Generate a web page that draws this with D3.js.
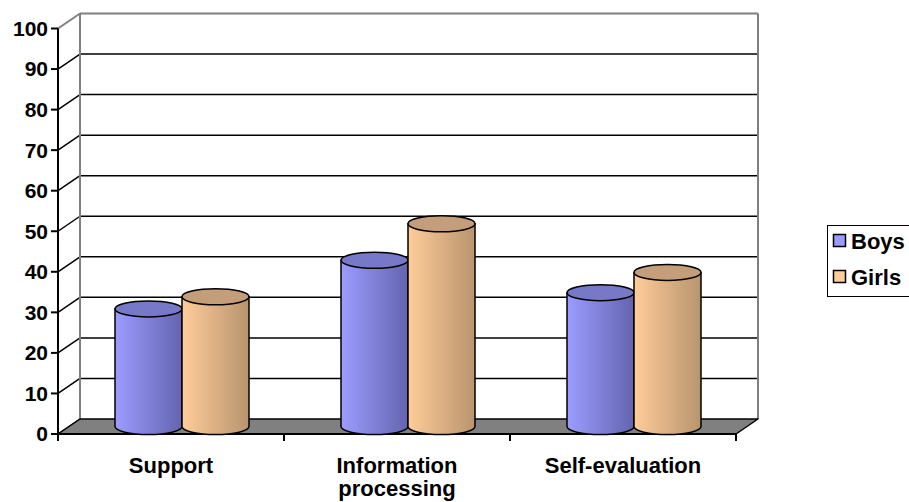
<!DOCTYPE html>
<html>
<head>
<meta charset="utf-8">
<script src="https://cdn.jsdelivr.net/npm/d3@7"></script>
<style>
  body { margin: 0; background: #fff; }
  svg text { font-family: "Liberation Sans", Arial, sans-serif; font-weight: bold; fill: #000; }
</style>
</head>
<body>
<script>
// chart values
const categories = ['Support', 'Information processing', 'Self-evaluation'];
const seriesNames = ['Boys', 'Girls'];
const boys = [29, 41, 33];
const girls = [32, 50, 38];
const yTicks = d3.range(0, 101, 10);

const W = 909, H = 502;
const depthX = 22, depthY = -15;   // 3D offset of the back wall

const svg = d3.select('body').append('svg')
    .attr('width', W)
    .attr('height', H);

const defs = svg.append('defs');

const x = d3.scaleBand()
    .domain(categories)
    .range([58, 736]);

const y = d3.scaleLinear()
    .domain([0, 100])
    .range([434, 28.5]);

// position of each series inside a category (relative to category centre)
const xs = d3.scaleBand()
    .domain(seriesNames)
    .range([-67, 67]);

// back wall, left wall outline
const wall = svg.append('g');

// gridlines on back wall + diagonal on left wall
yTicks.forEach(t => {
  const col = t === 100 ? '#808080' : '#000';
  if (t > 0) {
    wall.append('line')
      .attr('x1', x.range()[0] + depthX).attr('x2', x.range()[1] + depthX)
      .attr('y1', y(t) + depthY).attr('y2', y(t) + depthY)
      .attr('stroke', col).attr('stroke-width', t === 100 ? 2 : 1.5);
  }
  wall.append('line')
    .attr('x1', x.range()[0]).attr('x2', x.range()[0] + depthX)
    .attr('y1', y(t)).attr('y2', y(t) + depthY)
    .attr('stroke', col).attr('stroke-width', t === 100 ? 2 : 1.5);
});

// back wall vertical edges
[x.range()[0] + depthX, x.range()[1] + depthX].forEach(px => {
  wall.append('line')
    .attr('x1', px).attr('x2', px)
    .attr('y1', y(100) + depthY).attr('y2', y(0) + depthY)
    .attr('stroke', '#808080').attr('stroke-width', 2);
});

// floor
const x0 = x.range()[0], x1 = x.range()[1];
svg.append('path')
  .attr('d', `M${x0},${y(0)} L${x0 + depthX},${y(0) + depthY} L${x1 + depthX},${y(0) + depthY} L${x1},${y(0)} Z`)
  .attr('fill', '#808080')
  .attr('stroke', '#000')
  .attr('stroke-width', 1.5)
  .attr('stroke-linejoin', 'round');

// y axis
const axisG = svg.append('g');
axisG.append('line')
  .attr('x1', x0).attr('x2', x0)
  .attr('y1', y(100)).attr('y2', y(0))
  .attr('stroke', '#000').attr('stroke-width', 2);
axisG.append('line')
  .attr('x1', x0).attr('x2', x1)
  .attr('y1', y(0)).attr('y2', y(0))
  .attr('stroke', '#000').attr('stroke-width', 2);

yTicks.forEach(t => {
  axisG.append('line')
    .attr('x1', x0 - 7).attr('x2', x0)
    .attr('y1', y(t)).attr('y2', y(t))
    .attr('stroke', '#000').attr('stroke-width', 2);
  axisG.append('text')
    .attr('x', x0 - 10)
    .attr('y', y(t))
    .attr('dy', '0.35em')
    .attr('text-anchor', 'end')
    .style('font-size', '21px')
    .text(t);
});

// category ticks
x.domain().concat([null]).forEach((c, i) => {
  const px = i < categories.length ? x(c) : x1;
  axisG.append('line')
    .attr('x1', px).attr('x2', px)
    .attr('y1', y(0)).attr('y2', y(0) + 7)
    .attr('stroke', '#000').attr('stroke-width', 2);
});

// category labels, wrapped
categories.forEach(c => {
  const cx = x(c) + x.bandwidth() / 2;
  const t = axisG.append('text')
    .attr('x', cx)
    .attr('y', 473)
    .attr('text-anchor', 'middle')
    .style('font-size', '22px');
  const words = c.split(' ');
  let line = [];
  let tspan = t.append('tspan').attr('x', cx).attr('dy', 0);
  words.forEach(w => {
    line.push(w);
    tspan.text(line.join(' '));
    if (tspan.node().getComputedTextLength() > 180 && line.length > 1) {
      line.pop();
      tspan.text(line.join(' '));
      line = [w];
      tspan = t.append('tspan').attr('x', cx).attr('dy', 23).text(w);
    }
  });
});

// gradients for cylinders
const palette = {
  Boys: { light: '#9c9cff', dark: '#6464b0', top: '#7878c8' },
  Girls: { light: '#ffcc99', dark: '#b8946e', top: '#c49e7a' }
};
seriesNames.forEach(s => {
  const g = defs.append('linearGradient')
    .attr('id', 'grad-' + s)
    .attr('x1', '0%').attr('x2', '100%')
    .attr('y1', '0%').attr('y2', '0%');
  g.append('stop').attr('offset', '0%').attr('stop-color', palette[s].light);
  g.append('stop').attr('offset', '100%').attr('stop-color', palette[s].dark);
});

// cylinders, drawn at mid-depth
const rx = xs.bandwidth() / 2, ry = 8;
const midX = depthX / 2, midY = depthY / 2;
const bars = svg.append('g');
categories.forEach((c, i) => {
  const vals = { Boys: boys[i], Girls: girls[i] };
  seriesNames.forEach(s => {
    const cx = x(c) + x.bandwidth() / 2 + midX + xs(s) + rx;
    const yb = y(0) + midY;
    const yt = y(vals[s]) + midY;
    const l = cx - rx, r = cx + rx;
    bars.append('path')
      .attr('d', `M${l},${yt} L${l},${yb} A${rx},${ry} 0 0 0 ${r},${yb} L${r},${yt} Z`)
      .attr('fill', `url(#grad-${s})`)
      .attr('stroke', '#000')
      .attr('stroke-width', 1.5);
    bars.append('ellipse')
      .attr('cx', cx).attr('cy', yt)
      .attr('rx', rx).attr('ry', ry)
      .attr('fill', palette[s].top)
      .attr('stroke', '#000')
      .attr('stroke-width', 1.5);
  });
});

// legend
const legend = svg.append('g');
legend.append('rect')
  .attr('x', 827.5).attr('y', 225.5)
  .attr('width', 100).attr('height', 71)
  .attr('fill', '#fff')
  .attr('stroke', '#000')
  .attr('stroke-width', 1);
seriesNames.forEach((s, i) => {
  const ly = 241 + i * 36;
  legend.append('rect')
    .attr('x', 833.5).attr('y', ly - 6.5)
    .attr('width', 12).attr('height', 12)
    .attr('fill', palette[s].light)
    .attr('stroke', '#000')
    .attr('stroke-width', 1.5);
  legend.append('text')
    .attr('x', 851)
    .attr('y', ly)
    .attr('dy', '0.35em')
    .style('font-size', '22px')
    .text(s);
});
</script>
</body>
</html>
